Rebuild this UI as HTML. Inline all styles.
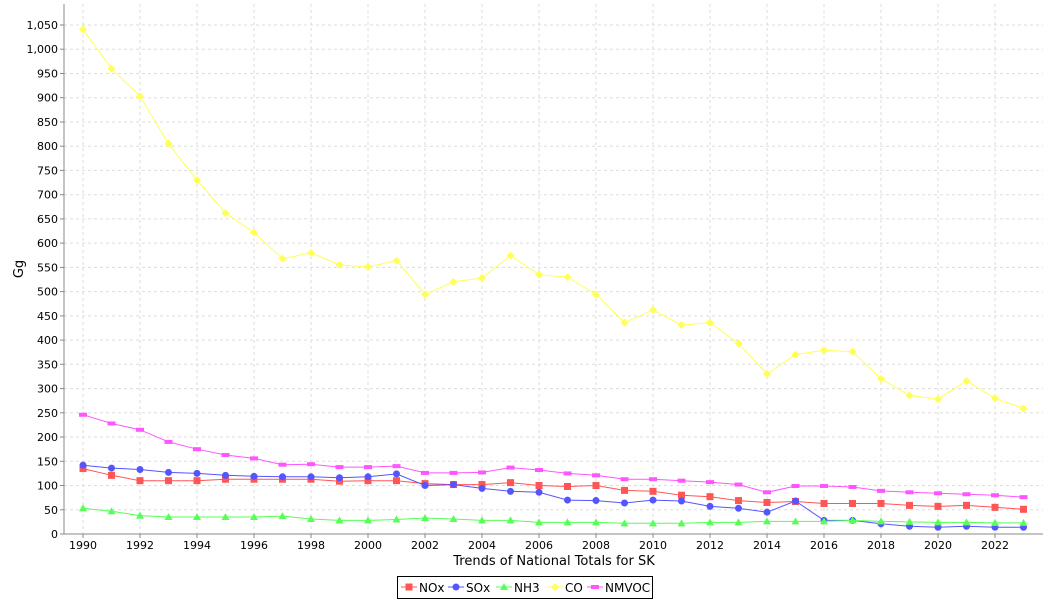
<!DOCTYPE html>
<html><head><meta charset="utf-8"><style>
body{margin:0;background:#fff;font-family:"Liberation Sans","DejaVu Sans",sans-serif}
</style></head><body>
<svg id="s" width="1050" height="600" xmlns="http://www.w3.org/2000/svg" font-family="DejaVu Sans, Liberation Sans, sans-serif"></svg>
<script>
const s=document.getElementById('s');
const L=64,R=1043,T=4,B=534;
const y=v=>534-v*509/1050, x=yr=>83+(yr-1990)*28.5;
let h='<rect x="0" y="0" width="1050" height="600" fill="#fff"/>';
for(let v=0;v<=1050;v+=50){const yy=y(v).toFixed(1);
 h+=`<line x1="${L}" x2="${R}" y1="${yy}" y2="${yy}" stroke="#ddd" stroke-dasharray="3,3"/>`;
 h+=`<line x1="${L-4}" x2="${L}" y1="${yy}" y2="${yy}" stroke="#888"/>`;
 h+=`<text x="${L-6}" y="${+yy+4}" font-size="11" text-anchor="end">${v>=1000?'1,'+String(v-1000).padStart(3,'0'):v}</text>`;}
for(let yr=1990;yr<=2023;yr+=2){const xx=x(yr);
 h+=`<line x1="${xx}" x2="${xx}" y1="${T}" y2="${B}" stroke="#ddd" stroke-dasharray="3,3"/>`;
 h+=`<line x1="${xx}" x2="${xx}" y1="${B}" y2="${B+4}" stroke="#888"/>`;
 h+=`<text x="${xx}" y="${B+15}" font-size="11" text-anchor="middle">${yr}</text>`;}
h+=`<line x1="${L}" x2="${L}" y1="${T}" y2="${B}" stroke="#888"/><line x1="${L}" x2="${R}" y1="${B}" y2="${B}" stroke="#888"/>`;
const D={
NOx:['#ff5555','sq',[135,121,110,110,110,113,113,113,113,109,110,110,104,102,102,106,100,98,100,90,88,80,77,69,65,67,63,63,63,59,57,59,55,51]],
SOx:['#5555ff','ci',[142,136,133,127,125,121,119,118,118,116,118,124,100,102,94,88,86,70,69,64,70,68,57,53,45,68,28,28,21,16,14,16,14,14]],
NH3:['#55ff55','tr',[53,47,38,35,35,35,35,37,31,28,28,30,33,31,28,28,24,24,24,22,22,22,24,24,26,26,26,28,26,25,24,24,23,23]],
CO:['#ffff55','di',[1041,960,903,805,730,662,622,568,580,555,551,564,494,520,528,574,535,530,494,436,462,431,436,393,330,370,379,376,320,286,278,316,280,259]],
NMVOC:['#ff55ff','re',[246,228,215,190,175,163,156,143,144,138,138,140,126,126,127,137,132,125,121,113,113,110,107,102,86,99,99,97,89,86,84,82,80,76]]};
function mk(t,cx,cy,c){
 if(t=='sq')return `<rect x="${cx-3.5}" y="${cy-3.5}" width="7" height="7" fill="${c}"/>`;
 if(t=='ci')return `<circle cx="${cx}" cy="${cy}" r="3.5" fill="${c}"/>`;
 if(t=='tr')return `<polygon points="${cx},${cy-4} ${cx+4},${cy+3} ${cx-4},${cy+3}" fill="${c}"/>`;
 if(t=='di')return `<polygon points="${cx},${cy-4} ${cx+4},${cy} ${cx},${cy+4} ${cx-4},${cy}" fill="${c}"/>`;
 return `<rect x="${cx-4}" y="${cy-2}" width="8" height="4" fill="${c}"/>`;}
for(const k in D){const [c,t,a]=D[k];
 h+=`<polyline fill="none" stroke="${c}" points="${a.map((v,i)=>x(1990+i)+','+y(v).toFixed(1)).join(' ')}"/>`;
 a.forEach((v,i)=>h+=mk(t,x(1990+i),y(v),c));}
h+=`<text x="554" y="565" font-size="13" text-anchor="middle">Trends of National Totals for SK</text>`;
h+=`<text transform="translate(23,269) rotate(-90)" font-size="13" text-anchor="middle">Gg</text>`;
h+=`<rect x="397.5" y="576.5" width="255" height="22" fill="#fff" stroke="#000"/>`;
const lg=[['NOx',401],['SOx',448],['NH3',496],['CO',547],['NMVOC',587]];
lg.forEach(([k,lx])=>{const [c,t]=D[k];h+=`<line x1="${lx}" x2="${lx+16}" y1="587" y2="587" stroke="${c}"/>`+mk(t,lx+8,587,c)+`<text x="${lx+18}" y="592" font-size="12">${k}</text>`;});
s.innerHTML=h;
</script>
</body></html>
